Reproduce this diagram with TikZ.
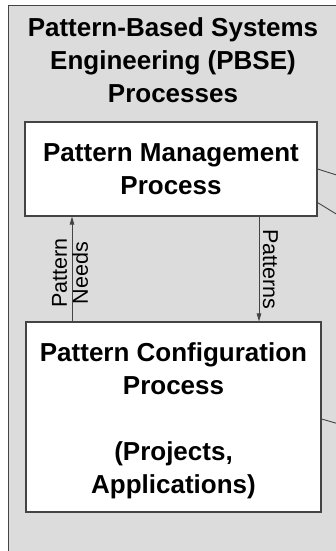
\documentclass[tikz,border=0pt]{standalone}
\usepackage{fontspec}
\setmainfont{Liberation Sans}
\usetikzlibrary{arrows.meta}
\definecolor{panel}{HTML}{DCDCDC}
\definecolor{edge}{HTML}{444444}
\begin{document}
\begin{tikzpicture}[x=1pt,y=-1pt,
  procbox/.style={draw=edge, line width=1.1pt, fill=white, inner sep=0pt},
  headtext/.style={font=\bfseries\fontsize{26}{33}\selectfont, align=center, inner sep=0pt},
  flowlabel/.style={font=\fontsize{21.5}{21}\selectfont, align=center, inner sep=0pt},
  flow/.style={draw=edge, line width=0.9pt, -{Triangle[length=8pt,width=4.5pt]}},
  link/.style={draw=edge, line width=0.9pt}]
\useasboundingbox (0,0) rectangle (336,551);
\clip (0,0) rectangle (336,551);
\fill[white] (0,0) rectangle (336,551);

% enclosing PBSE panel
\node[draw=edge, fill=panel, line width=1pt, minimum width=340pt, minimum height=560pt,
      anchor=north west, inner sep=0pt] (pbse) at (8,5) {};
\node[headtext, anchor=north] (title) at (173,17.5)
  {Pattern-Based Systems\\Engineering (PBSE)\\Processes};

% process boxes
\node[procbox, minimum width=292pt, minimum height=94pt] (pmp) at (171,169) {};
\node[headtext] (pmptext) at (171,169) {Pattern Management\\Process};

\node[procbox, minimum width=295pt, minimum height=190pt] (pcp) at (173.5,417) {};
\node[headtext, anchor=north] (pcptext) at (173.5,342.5)
  {Pattern Configuration\\Process\\[33pt](Projects,\\Applications)};

% flows between the two processes
\coordinate (needsx) at (72,0);
\coordinate (patx) at (259,0);
\draw[flow] (needsx |- pcp.north) -- (needsx |- pmp.south);
\draw[flow] (patx |- pmp.south) -- (patx |- pcp.north);
\node[flowlabel, rotate=90] (needslbl) at (70,273) {Pattern\\Needs};
\node[flowlabel, rotate=-90] (patlbl) at (270.5,269.5) {Patterns};

% links leaving the panel to the right
\coordinate (out1) at (346,178);
\coordinate (out2) at (346,220);
\coordinate (out3) at (346,426);
\draw[link] (pmp.east) -- (out1);
\draw[link] ([yshift=14pt]pmp.south east) -- (out2);
\draw[link] ([yshift=-2pt]pcp.east) -- (out3);
\end{tikzpicture}
\end{document}
